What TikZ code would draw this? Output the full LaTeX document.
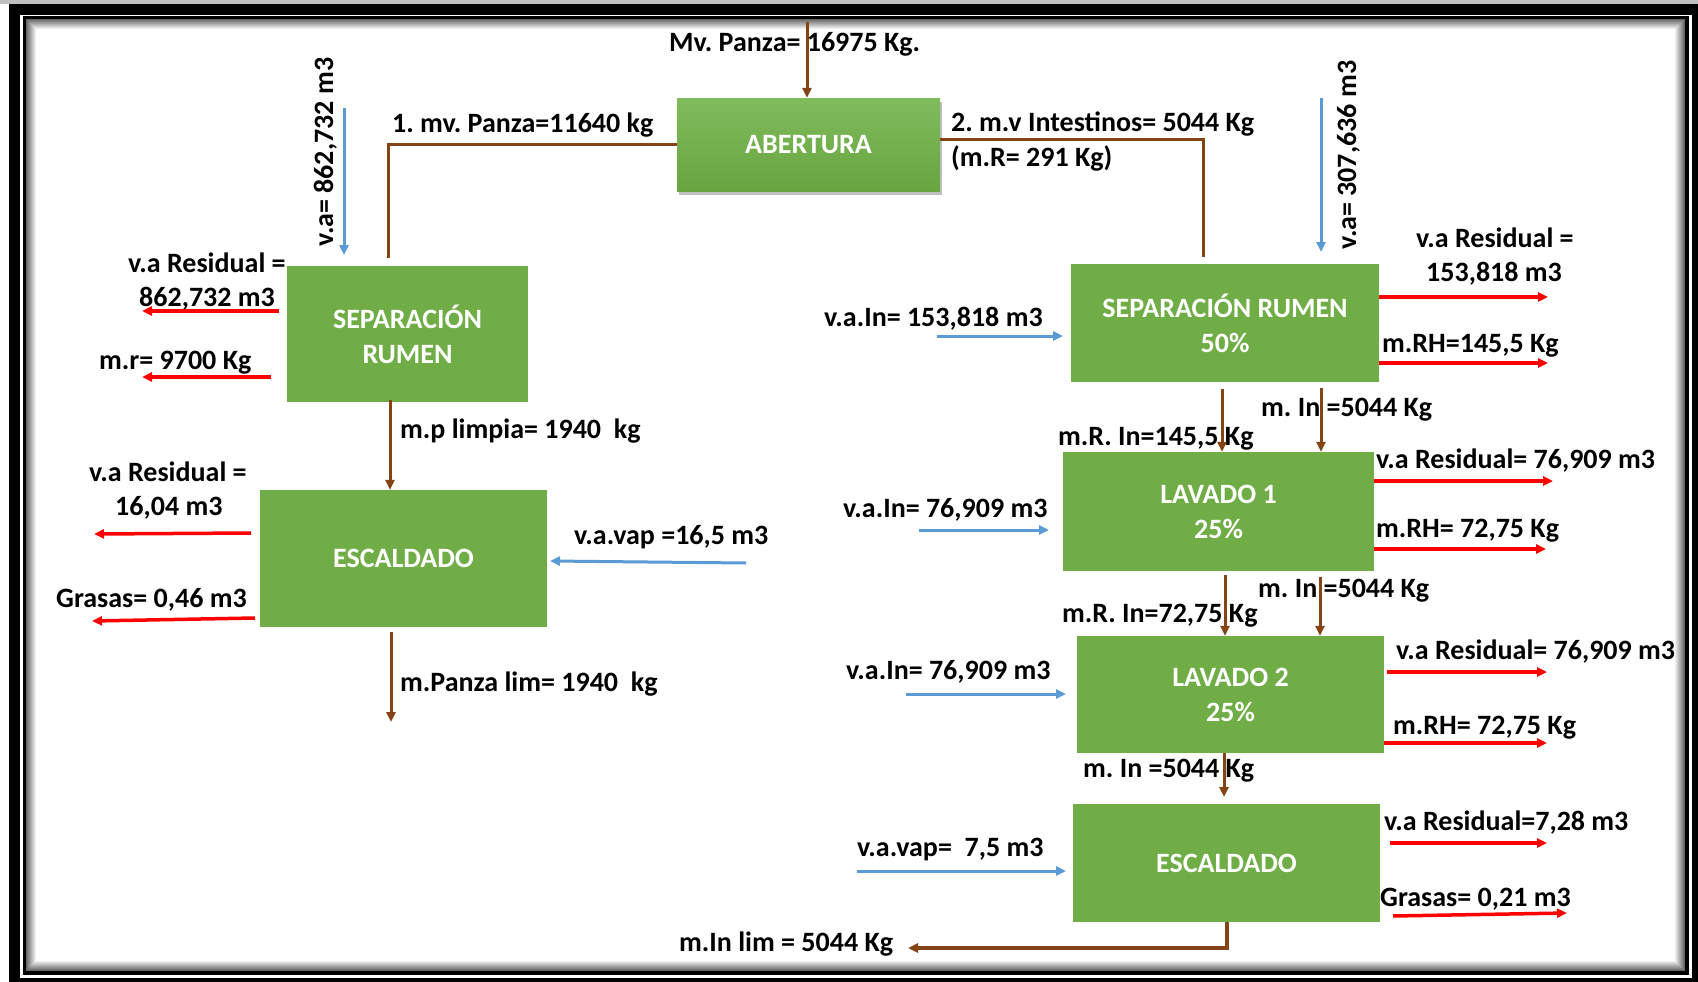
\documentclass[tikz,border=0pt]{standalone}
\usepackage{fontspec}
\setmainfont{Carlito}
\usetikzlibrary{arrows.meta,shadows,calc}

\definecolor{boxgreen}{RGB}{112,173,71}
\definecolor{abtop}{RGB}{128,188,92}
\definecolor{abbot}{RGB}{104,164,64}
\definecolor{flowbrown}{RGB}{133,68,22}
\definecolor{waterblue}{RGB}{91,155,213}
\definecolor{wastered}{RGB}{255,0,0}

\tikzset{
  proc/.style={fill=boxgreen, text=white, font=\bfseries\fontsize{28}{35}\selectfont,
    align=center, inner sep=0pt, draw=none},
  lbl/.style={font=\bfseries\fontsize{28}{34}\selectfont\frenchspacing, inner sep=0pt,
    text height=18pt, text depth=0pt, anchor=west},
  tipA/.style={-{Triangle[length=10pt,width=9pt]}},
  mass/.style={tipA, draw=flowbrown, line width=3pt},
  massline/.style={draw=flowbrown, line width=3pt},
  water/.style={tipA, draw=waterblue, line width=3pt},
  waste/.style={tipA, draw=wastered, line width=3.5pt},
}

\begin{document}
\begin{tikzpicture}[x=1pt,y=-1pt]
\useasboundingbox (0,0) rectangle (1698,982);
\clip (0,0) rectangle (1698,982);
\fill[white] (0,0) rectangle (1698,982);
\fill[black!25] (0,0) rectangle (1698,4);

% double frame with soft inner shade
\draw[line width=11pt] (14.5,9.5) rectangle (1697.5,983.5);
\draw[line width=3.5pt] (24.5,17.5) rectangle (1687,973);
\foreach \i in {0,...,9}{%
  \pgfmathtruncatemacro{\sh}{60-6*\i}
  \draw[black!\sh,line width=1pt] (26.7+\i,19.7+\i) rectangle (1684.8-\i,970.8-\i);
}

% process boxes
\node[proc, minimum width=263pt, minimum height=93pt, top color=abtop, bottom color=abbot,
  drop shadow={shadow xshift=2pt, shadow yshift=-4pt, fill=black!50, opacity=0.5}]
  (ab) at (808.5,144.5) {ABERTURA};
\node[proc, minimum width=241pt, minimum height=136pt] (sepL) at (407.5,334) {SEPARACIÓN\\RUMEN};
\node[proc, minimum width=287pt, minimum height=137pt] (escL) at (403.5,558.5) {ESCALDADO};
\node[proc, minimum width=308pt, minimum height=118pt] (sepR) at (1225,323) {SEPARACIÓN RUMEN\\50\%};
\node[proc, minimum width=311pt, minimum height=119pt] (lav1) at (1218.5,511.5) {LAVADO 1\\25\%};
\node[proc, minimum width=307pt, minimum height=117pt] (lav2) at (1230.5,694.5) {LAVADO 2\\25\%};
\node[proc, minimum width=307pt, minimum height=118pt] (escR) at (1226.5,863) {ESCALDADO};

% labels, top
\node[lbl] (tFeed) at (669,43) {Mv. Panza= 16975 Kg.};
\node[lbl] (tPan) at (392,123) {1. mv. Panza=11640 kg};
\node[lbl] (tInt) at (951,122) {2. m.v Intestinos= 5044 Kg};
\node[lbl] (tmR) at (951,157) {(m.R= 291 Kg)};
\node[lbl, anchor=center, rotate=90] (tvaL) at (324,152) {v.a= 862,732 m3};
\node[lbl, anchor=center, rotate=90] (tvaR) at (1347,155) {v.a= 307,636 m3};

% labels, left column
\node[lbl] (tResA) at (128,263) {v.a Residual =};
\node[lbl] (tResAv) at (139,297) {862,732 m3};
\node[lbl] (tmr) at (99,360) {m.r= 9700 Kg};
\node[lbl] (tmp) at (400,429) {m.p limpia= 1940\ \ kg};
\node[lbl] (tResB) at (89,472) {v.a Residual =};
\node[lbl] (tResBv) at (115,506) {16,04 m3};
\node[lbl] (tGrB) at (56,598) {Grasas= 0,46 m3};
\node[lbl] (tvapB) at (574,535) {v.a.vap =16,5 m3};
\node[lbl] (tPlim) at (400,682) {m.Panza lim= 1940\ \ kg};

% labels, right column
\node[lbl] (tInA) at (824,317) {v.a.In= 153,818 m3};
\node[lbl] (tResC) at (1416,238) {v.a Residual =};
\node[lbl] (tResCv) at (1426,272) {153,818 m3};
\node[lbl] (tRHA) at (1382,343) {m.RH=145,5 Kg};
\node[lbl] (tmInA) at (1261,407) {m. In =5044 Kg};
\node[lbl] (tmRA) at (1058,436) {m.R. In=145,5 Kg};
\node[lbl] (tInB) at (843,508) {v.a.In= 76,909 m3};
\node[lbl] (tResD) at (1376,459) {v.a Residual= 76,909 m3};
\node[lbl] (tRHB) at (1376,528) {m.RH= 72,75 Kg};
\node[lbl] (tmInB) at (1258,588) {m. In =5044 Kg};
\node[lbl] (tmRB) at (1062,613) {m.R. In=72,75 Kg};
\node[lbl] (tInC) at (846,670) {v.a.In= 76,909 m3};
\node[lbl] (tResE) at (1396,650) {v.a Residual= 76,909 m3};
\node[lbl] (tRHC) at (1393,725) {m.RH= 72,75 Kg};
\node[lbl] (tmInC) at (1083,768) {m. In =5044 Kg};
\node[lbl] (tvapC) at (857,847) {v.a.vap=\ \ 7,5 m3};
\node[lbl] (tResF) at (1384,821) {v.a Residual=7,28 m3};
\node[lbl] (tGrC) at (1380,897) {Grasas= 0,21 m3};
\node[lbl] (tIlim) at (679,942) {m.In lim = 5044 Kg};

% free ends of the connectors
\coordinate (feed) at (807,22);
\coordinate (lbEnd) at (388,258);
\coordinate (rbTop) at (1203,139);
\coordinate (rbEnd) at (1203,257);
\coordinate (wA1) at (344,108);  \coordinate (wA2) at (344,255);
\coordinate (wB1) at (1321,98);  \coordinate (wB2) at (1321,252);
\coordinate (rA1) at (279,311);  \coordinate (rA2) at (142,311);
\coordinate (rB1) at (271,377);  \coordinate (rB2) at (142,377);
\coordinate (mp) at (390,400);
\coordinate (rC1) at (251,533);  \coordinate (rC2) at (94,534);
\coordinate (rD1) at (255,618);  \coordinate (rD2) at (92,621);
\coordinate (wC1) at (746,563);  \coordinate (wC2) at (550,561);
\coordinate (mq1) at (391,632);  \coordinate (mq2) at (391,722);
\coordinate (wD1) at (937,336);  \coordinate (wD2) at (1063,336);
\coordinate (rE) at (1548,297);  \coordinate (rF) at (1548,363);
\coordinate (mR1) at (1222,389); \coordinate (mI1) at (1321,388);
\coordinate (wE1) at (919,530);  \coordinate (wE2) at (1049,530);
\coordinate (rG) at (1553,481);  \coordinate (rH) at (1546,549);
\coordinate (mR2) at (1225,575); \coordinate (mI2) at (1320,577);
\coordinate (wF1) at (906,694);  \coordinate (wF2) at (1066,694);
\coordinate (rI1) at (1387,672); \coordinate (rI2) at (1547,672);
\coordinate (rJ) at (1547,743);
\coordinate (mI3) at (1224,797);
\coordinate (wG1) at (857,871);  \coordinate (wG2) at (1066,871);
\coordinate (rK1) at (1390,843); \coordinate (rK2) at (1547,843);
\coordinate (rL1) at (1393,916); \coordinate (rL2) at (1567,913);
\coordinate (mlim) at (908,948);

% opening
\draw[mass] (feed) -- (feed |- ab.north);
\draw[massline] (ab.west) -| (lbEnd);
\draw[massline] (ab.east |- rbTop) -- (rbTop) -- (rbEnd);

% rumen line
\draw[water] (wA1) -- (wA2);
\draw[waste] (rA1) -- (rA2);
\draw[waste] (rB1) -- (rB2);
\draw[mass] (mp) -- (mp |- escL.north);
\draw[waste] (rC1) -- (rC2);
\draw[waste] (rD1) -- (rD2);
\draw[water] (wC1) -- (wC2);
\draw[mass] (mq1) -- (mq2);

% intestine line
\draw[water] (wB1) -- (wB2);
\draw[water] (wD1) -- (wD2);
\draw[waste] (sepR.east |- rE) -- (rE);
\draw[waste] (sepR.east |- rF) -- (rF);
\draw[mass] (mR1) -- (mR1 |- lav1.north);
\draw[mass] (mI1) -- (mI1 |- lav1.north);
\draw[water] (wE1) -- (wE2);
\draw[waste] (lav1.east |- rG) -- (rG);
\draw[waste] (lav1.east |- rH) -- (rH);
\draw[mass] (mR2) -- (mR2 |- lav2.north);
\draw[mass] (mI2) -- (mI2 |- lav2.north);
\draw[water] (wF1) -- (wF2);
\draw[waste] (rI1) -- (rI2);
\draw[waste] (lav2.east |- rJ) -- (rJ);
\draw[mass] (lav2.south -| mI3) -- (mI3);
\draw[water] (wG1) -- (wG2);
\draw[waste] (rK1) -- (rK2);
\draw[waste] (rL1) -- (rL2);
\draw[tipA, draw=flowbrown, line width=4pt] (escR.south) |- (mlim);
\end{tikzpicture}
\end{document}
